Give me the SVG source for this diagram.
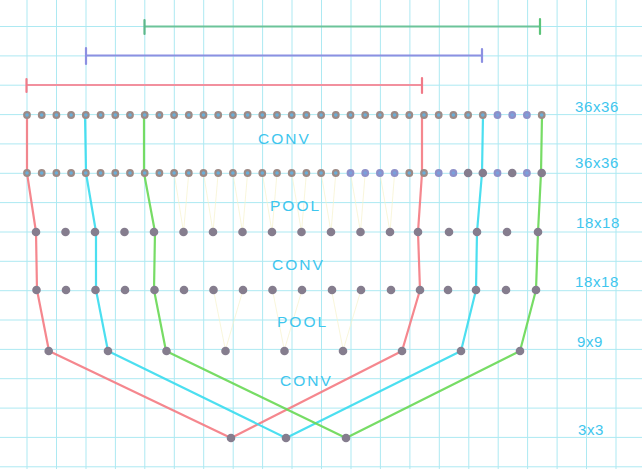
<svg xmlns="http://www.w3.org/2000/svg" width="642" height="469" viewBox="0 0 642 469">
<style>
.grid line{stroke:#ade9f2;stroke-width:1}
.bar{stroke-width:2.2;stroke-linecap:round}
.tick{stroke-width:2.2;stroke-linecap:round}
.conn{fill:none;stroke-width:2.2;stroke-linejoin:round;stroke-linecap:round;opacity:0.9}
.pl{stroke:#f6f2cc;stroke-width:0.7}
.lbl{font-family:"Liberation Sans",Arial,sans-serif;font-size:15px;fill:#3ec6ee;letter-spacing:0.6px}
.mid{font-family:"Liberation Sans",Arial,sans-serif;font-size:15.5px;fill:#3ec6ee;letter-spacing:2px}
</style>
<defs>
<g id="sd"><circle r="3.9" fill="#9c8a86"/><circle r="1.8" fill="#6aaed8"/></g>
<g id="sb"><circle r="3.9" fill="#8e90c8"/><circle r="1.8" fill="#7aa0dc"/></g>
<circle id="bd" r="4.3" fill="#857d8e"/>
</defs>
<rect width="642" height="469" fill="#ffffff"/>
<g class="grid">
<line x1="27" y1="0" x2="27" y2="469"/><line x1="56.5" y1="0" x2="56.5" y2="469"/><line x1="86" y1="0" x2="86" y2="469"/><line x1="115.4" y1="0" x2="115.4" y2="469"/><line x1="144.8" y1="0" x2="144.8" y2="469"/><line x1="174.3" y1="0" x2="174.3" y2="469"/><line x1="203.7" y1="0" x2="203.7" y2="469"/><line x1="233.2" y1="0" x2="233.2" y2="469"/><line x1="262.6" y1="0" x2="262.6" y2="469"/><line x1="292" y1="0" x2="292" y2="469"/><line x1="321.5" y1="0" x2="321.5" y2="469"/><line x1="351" y1="0" x2="351" y2="469"/><line x1="380.4" y1="0" x2="380.4" y2="469"/><line x1="409.9" y1="0" x2="409.9" y2="469"/><line x1="439.3" y1="0" x2="439.3" y2="469"/><line x1="468.8" y1="0" x2="468.8" y2="469"/><line x1="498.2" y1="0" x2="498.2" y2="469"/><line x1="527.6" y1="0" x2="527.6" y2="469"/><line x1="557.1" y1="0" x2="557.1" y2="469"/><line x1="586.5" y1="0" x2="586.5" y2="469"/><line x1="616" y1="0" x2="616" y2="469"/>
<line x1="0" y1="26.5" x2="642" y2="26.5"/><line x1="0" y1="55.9" x2="642" y2="55.9"/><line x1="0" y1="85.2" x2="642" y2="85.2"/><line x1="0" y1="114.6" x2="642" y2="114.6"/><line x1="0" y1="143.9" x2="642" y2="143.9"/><line x1="0" y1="173.3" x2="642" y2="173.3"/><line x1="0" y1="202.6" x2="642" y2="202.6"/><line x1="0" y1="232" x2="642" y2="232"/><line x1="0" y1="261.3" x2="642" y2="261.3"/><line x1="0" y1="290.7" x2="642" y2="290.7"/><line x1="0" y1="320" x2="642" y2="320"/><line x1="0" y1="349.4" x2="642" y2="349.4"/><line x1="0" y1="378.7" x2="642" y2="378.7"/><line x1="0" y1="408.1" x2="642" y2="408.1"/><line x1="0" y1="437.4" x2="642" y2="437.4"/><line x1="0" y1="466.8" x2="642" y2="466.8"/>
</g>
<g id="bars">
<line class="bar" x1="145" y1="26.5" x2="540" y2="26.5" stroke="#6cc49a"/>
<line class="tick" x1="144.5" y1="20" x2="144.5" y2="34" stroke="#5cb88a"/>
<line class="tick" x1="540" y1="19" x2="540" y2="34" stroke="#5cc47a"/>
<line class="bar" x1="87" y1="55.5" x2="481" y2="55.5" stroke="#8c90e2"/>
<line class="tick" x1="86" y1="48" x2="86" y2="64" stroke="#8c90e2"/>
<line class="tick" x1="482" y1="49" x2="482" y2="62" stroke="#8c90e2"/>
<line class="bar" x1="27" y1="85" x2="421" y2="85" stroke="#f2909e"/>
<line class="tick" x1="26.5" y1="79" x2="26.5" y2="92" stroke="#f07a88"/>
<line class="tick" x1="422" y1="78" x2="422" y2="93" stroke="#f07a88"/>
</g>
<g id="pool-links" class="pl">
<line x1="174.1" y1="173" x2="183.5" y2="232"/><line x1="188.8" y1="173" x2="183.5" y2="232"/>
<line x1="203.5" y1="173" x2="213" y2="232"/><line x1="218.2" y1="173" x2="213" y2="232"/>
<line x1="232.9" y1="173" x2="242.5" y2="232"/><line x1="247.6" y1="173" x2="242.5" y2="232"/>
<line x1="262.3" y1="173" x2="272" y2="232"/><line x1="277" y1="173" x2="272" y2="232"/>
<line x1="291.7" y1="173" x2="301.5" y2="232"/><line x1="306.4" y1="173" x2="301.5" y2="232"/>
<line x1="321.1" y1="173" x2="331" y2="232"/><line x1="335.8" y1="173" x2="331" y2="232"/>
<line x1="350.5" y1="173" x2="360.5" y2="232"/><line x1="365.2" y1="173" x2="360.5" y2="232"/>
<line x1="379.9" y1="173" x2="390" y2="232"/><line x1="394.6" y1="173" x2="390" y2="232"/>
<line x1="213.5" y1="290" x2="225.4" y2="350"/><line x1="243" y1="290" x2="225.4" y2="350"/>
<line x1="272.5" y1="290" x2="284.3" y2="350"/><line x1="302" y1="290" x2="284.3" y2="350"/>
<line x1="331.5" y1="290" x2="343.2" y2="350"/><line x1="361" y1="290" x2="343.2" y2="350"/>
</g>
<g id="connectors">
<polyline class="conn" stroke="#f47a82" points="422,115 422,173 418,232 420,290 402,351 231,438 49,351 37,290 36,232 27,173 27,115"/>
<polyline class="conn" stroke="#38dcee" points="483,115 482,173 477,232 476,290 461,351 286,438 108,351 96,290 96,232 86,173 85,115"/>
<polyline class="conn" stroke="#68d854" points="542,115 541,173 538,232 536,290 520,351 346,438 166,351 154,290 155,232 144,173 144,115"/>
</g>
<g id="row1">
<use href="#sd" x="27" y="115"/><use href="#sd" x="41.7" y="115"/><use href="#sd" x="56.4" y="115"/><use href="#sd" x="71.1" y="115"/><use href="#sd" x="85.8" y="115"/><use href="#sd" x="100.6" y="115"/><use href="#sd" x="115.3" y="115"/><use href="#sd" x="130" y="115"/><use href="#sd" x="144.7" y="115"/><use href="#sd" x="159.4" y="115"/><use href="#sd" x="174.1" y="115"/><use href="#sd" x="188.8" y="115"/><use href="#sd" x="203.5" y="115"/><use href="#sd" x="218.2" y="115"/><use href="#sd" x="232.9" y="115"/><use href="#sd" x="247.6" y="115"/><use href="#sd" x="262.3" y="115"/><use href="#sd" x="277" y="115"/><use href="#sd" x="291.7" y="115"/><use href="#sd" x="306.4" y="115"/><use href="#sd" x="321.1" y="115"/><use href="#sd" x="335.8" y="115"/><use href="#sd" x="350.5" y="115"/><use href="#sd" x="365.2" y="115"/><use href="#sd" x="379.9" y="115"/><use href="#sd" x="394.6" y="115"/><use href="#sd" x="409.3" y="115"/><use href="#sd" x="424" y="115"/><use href="#sd" x="438.7" y="115"/><use href="#sd" x="453.4" y="115"/><use href="#sd" x="468.1" y="115"/><use href="#sd" x="482.8" y="115"/><use href="#sb" x="497.5" y="115"/><use href="#sb" x="512.2" y="115"/><use href="#sb" x="526.9" y="115"/><use href="#sd" x="541.7" y="115"/>
</g>
<g id="row2">
<use href="#sd" x="27" y="173"/><use href="#sd" x="41.7" y="173"/><use href="#sd" x="56.4" y="173"/><use href="#sd" x="71.1" y="173"/><use href="#sd" x="85.8" y="173"/><use href="#sd" x="100.6" y="173"/><use href="#sd" x="115.3" y="173"/><use href="#sd" x="130" y="173"/><use href="#sd" x="144.7" y="173"/><use href="#sd" x="159.4" y="173"/><use href="#sd" x="174.1" y="173"/><use href="#sd" x="188.8" y="173"/><use href="#sd" x="203.5" y="173"/><use href="#sd" x="218.2" y="173"/><use href="#sd" x="232.9" y="173"/><use href="#sd" x="247.6" y="173"/><use href="#sd" x="262.3" y="173"/><use href="#sd" x="277" y="173"/><use href="#sd" x="291.7" y="173"/><use href="#sd" x="306.4" y="173"/><use href="#sd" x="321.1" y="173"/><use href="#sd" x="335.8" y="173"/><use href="#sb" x="350.5" y="173"/><use href="#sb" x="365.2" y="173"/><use href="#sb" x="379.9" y="173"/><use href="#sb" x="394.6" y="173"/><use href="#sd" x="409.3" y="173"/><use href="#sd" x="424" y="173"/><use href="#sb" x="438.7" y="173"/><use href="#sb" x="453.4" y="173"/><use href="#bd" x="468.1" y="173"/><use href="#bd" x="482.8" y="173"/><use href="#sb" x="497.5" y="173"/><use href="#bd" x="512.2" y="173"/><use href="#sb" x="526.9" y="173"/><use href="#bd" x="541.7" y="173"/>
</g>
<g id="row3">
<use href="#bd" x="36" y="232"/><use href="#bd" x="65.5" y="232"/><use href="#bd" x="95" y="232"/><use href="#bd" x="124.5" y="232"/><use href="#bd" x="154" y="232"/><use href="#bd" x="183.5" y="232"/><use href="#bd" x="213" y="232"/><use href="#bd" x="242.5" y="232"/><use href="#bd" x="272" y="232"/><use href="#bd" x="301.5" y="232"/><use href="#bd" x="331" y="232"/><use href="#bd" x="360.5" y="232"/><use href="#bd" x="390" y="232"/><use href="#bd" x="418" y="232"/><use href="#bd" x="449" y="232"/><use href="#bd" x="477" y="232"/><use href="#bd" x="507" y="232"/><use href="#bd" x="538" y="232"/>
</g>
<g id="row4">
<use href="#bd" x="36.5" y="290"/><use href="#bd" x="66" y="290"/><use href="#bd" x="95.5" y="290"/><use href="#bd" x="125" y="290"/><use href="#bd" x="154.5" y="290"/><use href="#bd" x="184" y="290"/><use href="#bd" x="213.5" y="290"/><use href="#bd" x="243" y="290"/><use href="#bd" x="272.5" y="290"/><use href="#bd" x="302" y="290"/><use href="#bd" x="332" y="290"/><use href="#bd" x="361" y="290"/><use href="#bd" x="391" y="290"/><use href="#bd" x="420" y="290"/><use href="#bd" x="448" y="290"/><use href="#bd" x="476" y="290"/><use href="#bd" x="506" y="290"/><use href="#bd" x="536" y="290"/>
</g>
<g id="row5">
<use href="#bd" x="48.7" y="351"/><use href="#bd" x="108" y="351"/><use href="#bd" x="166.5" y="351"/><use href="#bd" x="225.5" y="351"/><use href="#bd" x="284.5" y="351"/><use href="#bd" x="343" y="351"/><use href="#bd" x="402" y="351"/><use href="#bd" x="461" y="351"/><use href="#bd" x="520" y="351"/>
</g>
<g id="row6">
<use href="#bd" x="231" y="438"/><use href="#bd" x="286" y="438"/><use href="#bd" x="346" y="438"/>
</g>
<g id="labels">
<text class="lbl" x="575" y="112">36x36</text>
<text class="lbl" x="575" y="168">36x36</text>
<text class="lbl" x="576" y="228">18x18</text>
<text class="lbl" x="575" y="287">18x18</text>
<text class="lbl" x="577" y="347">9x9</text>
<text class="lbl" x="578" y="435">3x3</text>
<text class="mid" x="258" y="144">CONV</text>
<text class="mid" x="270" y="211">POOL</text>
<text class="mid" x="272" y="270">CONV</text>
<text class="mid" x="277" y="327">POOL</text>
<text class="mid" x="280" y="386">CONV</text>
</g>
</svg>
